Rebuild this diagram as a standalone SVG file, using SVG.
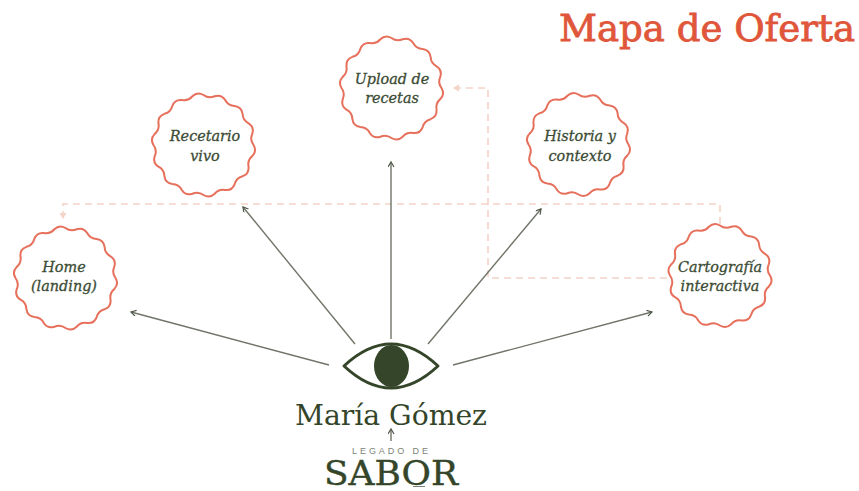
<svg xmlns="http://www.w3.org/2000/svg" width="859" height="491" viewBox="0 0 859 491">
<style>
.wave{fill:#fff;stroke:#e6705c;stroke-width:2}
.lbl{font-family:"DejaVu Serif",serif;font-style:italic;font-size:14.400px;fill:#3c4c35;stroke:#3c4c35;stroke-width:.3;text-anchor:middle}
.ray{fill:none;stroke:#6f7568;stroke-width:1.4;marker-end:url(#a)}
.dash{fill:none;stroke:#f4d3c8;stroke-width:1.6;stroke-dasharray:7 5;marker-end:url(#b)}
.brand{font-family:"DejaVu Serif",serif;fill:#344529}
</style>
<defs>
<marker id="a" markerWidth="8" markerHeight="8" refX="6" refY="3" orient="auto" markerUnits="userSpaceOnUse"><path d="M1 0L6 3L1 6" fill="none" stroke="#4f5848" stroke-width="1.2"/></marker>
<marker id="b" markerWidth="8" markerHeight="8" refX="6" refY="4" orient="auto" markerUnits="userSpaceOnUse"><path d="M0 .5L6 4L0 7.500Z" fill="#f4d3c8"/></marker>
<path id="w" d="M50 0Q53.66 6.05 48.75 11.13Q43.8 15.33 45.05 21.69Q45.72 28.73 39.09 31.17Q32.81 32.81 31.17 39.09Q28.73 45.72 21.69 45.05Q15.33 43.8 11.13 48.75Q6.05 53.66 0 50Q-5.2 46.11 -11.13 48.75Q-17.84 50.97 -21.69 45.05Q-24.68 39.29 -31.17 39.09Q-38.18 38.18 -39.09 31.17Q-39.29 24.68 -45.05 21.69Q-50.97 17.84 -48.75 11.13Q-46.11 5.2 -50 0Q-53.66 -6.05 -48.75 -11.13Q-43.8 -15.33 -45.05 -21.69Q-45.72 -28.73 -39.09 -31.17Q-32.81 -32.81 -31.17 -39.09Q-28.73 -45.72 -21.69 -45.05Q-15.33 -43.8 -11.13 -48.75Q-6.05 -53.66 0 -50Q5.2 -46.11 11.13 -48.75Q17.84 -50.97 21.69 -45.05Q24.68 -39.29 31.17 -39.09Q38.18 -38.18 39.09 -31.17Q39.29 -24.68 45.05 -21.69Q50.97 -17.84 48.75 -11.13Q46.11 -5.2 50 0Z"/>
</defs>
<rect width="859" height="491" fill="#fff"/>
<g id="connectors">
<path class="dash" d="M720 224V204H63V219"/>
<path class="dash" d="M667 278H488V88H453"/>
<path class="ray" d="M329 365L131 312"/>
<path class="ray" d="M355 344L243 207"/>
<path class="ray" d="M391 339V162"/>
<path class="ray" d="M428 344L541 209"/>
<path class="ray" d="M453 365L652 312"/>
<path class="ray" d="M391 441V429"/>
</g>
<g id="home"><use href="#w" class="wave" x="65.500" y="278"/><text class="lbl" x="64" y="272">Home</text><text class="lbl" x="64" y="291">(landing)</text></g>
<g id="recetario"><use href="#w" class="wave" x="203.500" y="145"/><text class="lbl" x="205" y="141">Recetario</text><text class="lbl" x="205" y="161">vivo</text></g>
<g id="upload"><use href="#w" class="wave" x="391.500" y="88"/><text class="lbl" x="392" y="84">Upload de</text><text class="lbl" x="392" y="103">recetas</text></g>
<g id="historia"><use href="#w" class="wave" x="578.500" y="144.500"/><text class="lbl" x="580" y="141">Historia y</text><text class="lbl" x="580" y="161">contexto</text></g>
<g id="cartografia"><use href="#w" class="wave" x="720" y="275.500"/><text class="lbl" x="720" y="272">Cartografía</text><text class="lbl" x="720" y="291">interactiva</text></g>
<g id="maria">
<path d="M344 366Q391 322 438 366Q391 410 344 366Z" fill="#fff" stroke="#344529" stroke-width="3" stroke-linejoin="round"/>
<ellipse cx="391.500" cy="366" rx="17.500" ry="21" fill="#344529"/>
<text class="brand" x="391" y="425" text-anchor="middle" font-size="28" textLength="192" lengthAdjust="spacingAndGlyphs">María Gómez</text>
</g>
<g id="legado">
<text x="390" y="454" text-anchor="middle" font-family="Liberation Sans,sans-serif" font-size="9" fill="#7d8377" textLength="76">LEGADO DE</text>
<text class="brand" x="391" y="485" text-anchor="middle" font-size="34" stroke="#344529" stroke-width=".4" textLength="134" lengthAdjust="spacingAndGlyphs">SABOR</text>
<path d="M413 486.500H425" stroke="#7d8377" stroke-width="1"/>
</g>
<text id="title" x="707" y="41" text-anchor="middle" font-family="DejaVu Serif,serif" font-size="37" fill="#e0563a" stroke="#e0563a" stroke-width=".8" textLength="296" lengthAdjust="spacingAndGlyphs">Mapa de Oferta</text>
</svg>
